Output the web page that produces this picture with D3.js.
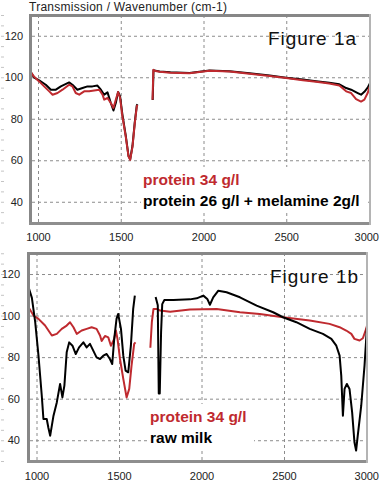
<!DOCTYPE html>
<html lang="en">
<head>
<meta charset="UTF-8" />
<title>Transmission / Wavenumber</title>
<script src="https://cdn.jsdelivr.net/npm/d3@7"></script>
<style>
  body { margin: 0; background: #fff; }
  svg { display: block; font-family: "Liberation Sans", Arial, sans-serif; }
</style>
</head>
<body>
<div id="chart"></div>
<script>
// axis ticks
var xTicks = [1000, 1500, 2000, 2500, 3000];
var yTicks = [40, 60, 80, 100, 120];
var minorTicks = d3.range(30, 131, 5);

// Figure 1a - protein 34 g/l (red)
var wnRedA = [947, 977, 1007, 1037, 1068, 1088, 1118, 1148, 1188, 1208, 1228, 1249, 1279, 1309, 1339, 1370,
  1390, 1400, 1420, 1440, 1456, 1470, 1484, 1496, 1510, 1530, 1547, 1557, 1571, 1585, 1597, 1601, null,
  1692, 1697, 1710, 1735, 1800, 1915, 2036, 2157, 2278, 2400, 2499, 2600, 2680, 2760, 2821, 2862, 2892,
  2922, 2952, 2972, 2992, 3005];
var tRedA = [103.6, 100.2, 98, 95.6, 93.2, 91.6, 92.4, 94, 96.4, 95.6, 92.4, 91.6, 93.2, 93.2, 93.6, 94,
  91.6, 89.2, 90, 87.6, 85.2, 89.2, 92.9, 90, 81.1, 71.5, 61.8, 60.2, 66.6, 78, 86, 86.7, null,
  89.2, 103.6, 103, 102.6, 102.2, 101.9, 103.1, 102.8, 101.7, 100.6, 99.6, 98.6, 97.8, 97, 96, 93.2, 92.4,
  89.5, 88.3, 89.2, 92.4, 95.6];

// Figure 1a - protein 26 g/l + melamine 2g/l (black)
var wnBlackA = [947, 977, 1007, 1047, 1078, 1108, 1138, 1188, 1208, 1238, 1269, 1299, 1329, 1359, 1380, 1400,
  1420, 1440, 1456, 1470, 1484, 1496, 1510, 1530, 1547, 1557, 1571, 1585, 1597, 1601, null,
  1693, 1698, 1710, 1735, 1800, 1915, 2036, 2157, 2278, 2400, 2499, 2600, 2680, 2760, 2821, 2862, 2892,
  2912, 2932, 2952, 2972, 2992, 3005];
var tBlackA = [103.6, 99.8, 98.5, 96.4, 94, 94, 95.6, 97.5, 96.4, 94, 94.8, 95.6, 95.6, 96, 94, 91.6,
  92.7, 87.6, 84, 87.6, 92.9, 90.8, 82, 72, 62, 60.5, 67, 78.5, 86.5, 87, null,
  89, 103.4, 103.2, 102.8, 102.4, 102, 103.3, 102.9, 101.9, 100.8, 99.8, 98.9, 98.1, 97.3, 96.6, 94.8, 94,
  93.2, 92.4, 91.6, 93, 95, 97];

// Figure 1b - protein 34 g/l (red)
var wnRedB = [952, 982, 1012, 1052, 1093, 1123, 1153, 1183, 1203, 1224, 1244, 1274, 1304, 1334, 1364, 1385,
  1395, 1415, 1435, 1451, 1471, 1481, 1491, 1506, 1526, 1546, 1562, 1576, 1592, 1600, null,
  1690, 1699, 1709, 1729, 1749, 1810, 1930, 2092, 2233, 2353, 2494, 2656, 2776, 2837, 2877, 2908,
  2927, 2958, 2978, 2998, 3008];
var tRedB = [104, 100, 98.4, 95.2, 90.4, 91.2, 93.6, 95.2, 96.8, 94.4, 91.2, 92.8, 93.6, 94.4, 93.6, 90.4,
  87.8, 90.2, 89.5, 85.5, 88.8, 92.8, 88.8, 79.1, 69.5, 60.6, 64.7, 75.9, 86.4, 87.1, null,
  84.5, 96.8, 103.2, 103.2, 102.4, 101.8, 102.9, 103.2, 101.6, 100.8, 99.2, 97.6, 96, 94.4, 92.8, 91.2,
  88.8, 88, 89.1, 93.6, 96.8];

// Figure 1b - raw milk (black)
var wnBlackB = [952, 972, 992, 1012, 1032, 1042, 1062, 1072, 1083, 1103, 1123, 1143, 1157, 1169, 1183, 1198,
  1218, 1238, 1258, 1284, 1304, 1324, 1344, 1364, 1385, 1405, 1425, 1445, 1459, 1471, 1485, 1495, 1512,
  1526, 1540, 1556, 1572, 1586, 1596, null,
  1722, 1735, 1741, 1747, 1755, 1762, 1775, 1830, 1930, 1971, 2011, 2035, 2051, 2071, 2102, 2152, 2233,
  2334, 2434, 2494, 2575, 2656, 2736, 2787, 2817, 2837, 2847, 2857, 2867, 2881, 2897, 2913, 2927, 2937,
  2947, 2968, 2988, 3002, 3008];
var tBlackB = [113.6, 108.5, 97, 80.7, 61.4, 50.2, 50.2, 46, 42.2, 51.8, 58.2, 67.1, 60.6, 66.3, 82.3, 87.1,
  85.5, 81.5, 84.7, 87.1, 84.7, 86.4, 83.1, 79.9, 79.1, 80.7, 81.5, 79.1, 76.7, 88.8, 98.4, 100.8, 93.6,
  80.7, 73.5, 72.7, 85.5, 103.2, 109.6, null,
  109, 105, 62.5, 62.5, 92, 105.5, 107.5, 107.5, 107.8, 108.3, 109.6, 108, 105.2, 108.8, 112, 111.2, 108.8,
  104.8, 101.6, 99.2, 96.8, 93.6, 91.2, 88.8, 85.5, 80.7, 71.1, 51.8, 64.7, 67.1, 64.7, 53.4, 39, 35,
  42.2, 56.6, 75.9, 93.6, 100.8];

var RED = "#bf2a2f";

var svg = d3.select("#chart").append("svg")
  .attr("width", 380)
  .attr("height", 483);
var defs = svg.append("defs");

svg.append("rect").attr("width", 380).attr("height", 483).attr("fill", "#fff");

svg.append("text")
  .attr("x", 29)
  .attr("y", 11)
  .attr("font-size", "12px")
  .attr("fill", "#222")
  .attr("textLength", 198)
  .text("Transmission / Wavenumber (cm-1)");

var panels = [
  {
    id: "a", l: 32, r: 369, t: 17, b: 222,
    xr: [38, 369], yr: [222.5, 15],
    yLabelX: 23, xLabelY: 233,
    series: [
      { wn: wnBlackA, t: tBlackA, color: "#000" },
      { wn: wnRedA, t: tRedA, color: RED }
    ],
    figure: "Figure 1a", figX: 268, figY: 45,
    legBox: [141, 167, 225, 44],
    legend: [
      { text: "protein 34 g/l", color: RED, x: 143, y: 185 },
      { text: "protein 26 g/l + melamine 2g/l", color: "#000", x: 143, y: 206 }
    ]
  },
  {
    id: "b", l: 30, r: 366, t: 255, b: 460,
    xr: [36.5, 366.5], yr: [461, 253.25],
    yLabelX: 20, xLabelY: 472,
    series: [
      { wn: wnRedB, t: tRedB, color: RED },
      { wn: wnBlackB, t: tBlackB, color: "#000" }
    ],
    figure: "Figure 1b", figX: 270, figY: 283,
    legBox: [148, 404, 106, 44],
    legend: [
      { text: "protein 34 g/l", color: RED, x: 150, y: 422 },
      { text: "raw milk", color: "#000", x: 150, y: 443 }
    ]
  }
];

panels.forEach(drawPanel);

function drawPanel(p) {
  var x = d3.scaleLinear().domain([1000, 3000]).range(p.xr);
  var y = d3.scaleLinear().domain([30, 130]).range(p.yr);
  var g = svg.append("g");

  defs.append("clipPath").attr("id", "clip" + p.id)
    .append("rect")
    .attr("x", p.l).attr("y", p.t)
    .attr("width", p.r - p.l).attr("height", p.b - p.t);

  // dashed grid
  var gx = g.append("g")
    .attr("transform", "translate(0," + p.b + ")")
    .call(d3.axisBottom(x).tickValues(xTicks).tickSize(-(p.b - p.t)).tickFormat(""));
  var gy = g.append("g")
    .attr("transform", "translate(" + p.l + ",0)")
    .call(d3.axisLeft(y).tickValues(yTicks).tickSize(-(p.r - p.l)).tickFormat(""));
  [gx, gy].forEach(function(a) {
    a.select(".domain").remove();
    a.selectAll("line")
      .attr("stroke", "#8c8c8c")
      .attr("stroke-dasharray", "3,3");
  });

  // spectra
  var line = d3.line()
    .defined(function(d) { return d[1] != null; })
    .x(function(d) { return x(d[0]); })
    .y(function(d) { return y(d[1]); });

  p.series.forEach(function(s) {
    g.append("path")
      .datum(d3.zip(s.wn, s.t))
      .attr("clip-path", "url(#clip" + p.id + ")")
      .attr("fill", "none")
      .attr("stroke", s.color)
      .attr("stroke-width", 2)
      .attr("stroke-linejoin", "round")
      .attr("d", line);
  });

  // legend
  g.append("rect")
    .attr("x", p.legBox[0]).attr("y", p.legBox[1])
    .attr("width", p.legBox[2]).attr("height", p.legBox[3])
    .attr("fill", "#fff");
  p.legend.forEach(function(d) {
    g.append("text")
      .attr("x", d.x).attr("y", d.y)
      .attr("font-size", "15.5px")
      .attr("font-weight", "bold")
      .attr("fill", d.color)
      .text(d.text);
  });

  g.append("text")
    .attr("x", p.figX).attr("y", p.figY)
    .attr("font-size", "19px")
    .attr("fill", "#111")
    .attr("textLength", 88)
    .text(p.figure);

  // frame
  g.append("line").attr("x1", p.l - 3).attr("x2", p.r + 2).attr("y1", p.t - 1.5).attr("y2", p.t - 1.5)
    .attr("stroke", "#878787").attr("stroke-width", 3);
  g.append("line").attr("x1", p.l - 1.5).attr("x2", p.l - 1.5).attr("y1", p.t - 3).attr("y2", p.b + 3)
    .attr("stroke", "#878787").attr("stroke-width", 3);
  g.append("line").attr("x1", p.l - 3).attr("x2", p.r + 2).attr("y1", p.b + 1.5).attr("y2", p.b + 1.5)
    .attr("stroke", "#8e8e8e").attr("stroke-width", 3);
  g.append("line").attr("x1", p.r + 1).attr("x2", p.r + 1).attr("y1", p.t - 3).attr("y2", p.b + 3)
    .attr("stroke", "#b4b4b4").attr("stroke-width", 2);

  // y labels
  var ya = g.append("g")
    .attr("transform", "translate(" + p.yLabelX + ",0)")
    .call(d3.axisLeft(y).tickValues(yTicks).tickSize(0).tickPadding(0));
  ya.select(".domain").remove();
  ya.selectAll("text").attr("font-size", "11px").attr("fill", "#222")
    .attr("font-family", "Liberation Sans, Arial, sans-serif");

  var ym = g.append("g")
    .attr("transform", "translate(4,0)")
    .call(d3.axisLeft(y).tickValues(minorTicks).tickSize(3).tickFormat(""));
  ym.select(".domain").remove();
  ym.selectAll("line").attr("stroke", "#c4c4c4");

  // x labels
  var xa = g.append("g")
    .attr("transform", "translate(0," + p.xLabelY + ")")
    .call(d3.axisBottom(x).tickValues(xTicks).tickSize(0).tickPadding(0).tickFormat(d3.format("d")));
  xa.select(".domain").remove();
  xa.selectAll("text").attr("font-size", "11px").attr("fill", "#222")
    .attr("font-family", "Liberation Sans, Arial, sans-serif")
    .attr("text-anchor", function(d) { return d === 3000 ? "end" : "middle"; })
    .attr("dx", function(d) { return d === 3000 ? (378.5 - x(d)) : 0; });
}
</script>
</body>
</html>
